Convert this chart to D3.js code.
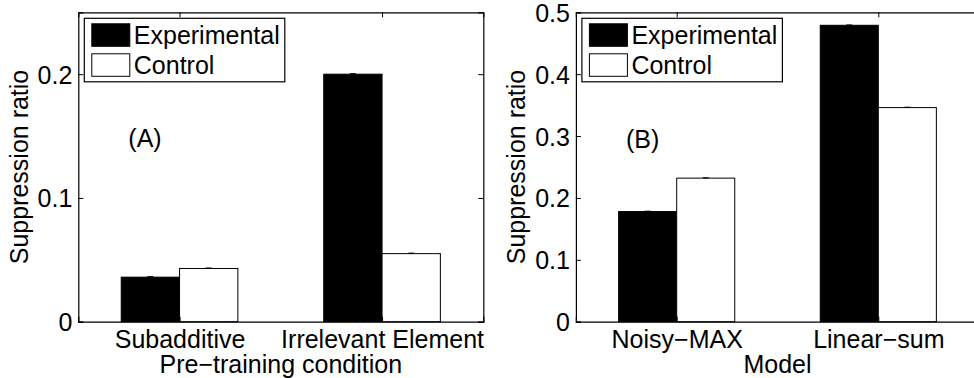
<!DOCTYPE html>
<html>
<head>
<meta charset="utf-8">
<script src="https://cdn.jsdelivr.net/npm/d3@7"></script>
<style>
  body { margin: 0; background: #fff; }
  svg text { font-family: "Liberation Sans", Arial, Helvetica, sans-serif; fill: #000; }
</style>
</head>
<body>
<svg id="chart" width="974" height="378"></svg>
<script>
// series names
const seriesNames = ["Experimental", "Control"];

// panel A
const catsA = ["Subadditive", "Irrelevant Element"];
const expA = [0.036, 0.2];
const ctlA = [0.043, 0.055];
const expErrA = [0.0004, 0.0004];
const ctlErrA = [0.0004, 0.0004];
const ticksA = [0, 0.1, 0.2];

// panel B
const catsB = ["Noisy\u2212MAX", "Linear\u2212sum"];
const expB = [0.178, 0.479];
const ctlB = [0.232, 0.346];
const expErrB = [0.0006, 0.0006];
const ctlErrB = [0.0006, 0.0006];
const ticksB = [0, 0.1, 0.2, 0.3, 0.4, 0.5];

const svg = d3.select("#chart");
const fontSize = 25;
const barW = 0.288; // bar width in category units

function drawPanel(p) {
  const w = p.width, h = p.height;
  const g = svg.append("g").attr("transform", `translate(${p.left},${p.top})`);

  const x = d3.scaleLinear().domain([0.5, p.cats.length + 0.5]).range([0, w]);
  const y = d3.scaleLinear().domain(p.yDomain).range([h, 0]);

  // white axes background
  g.append("rect").attr("width", w).attr("height", h).attr("fill", "#fff");

  const rows = [];
  p.cats.forEach((c, i) => {
    rows.push({ i: i + 1, off: -barW, v: p.exp[i], e: p.expErr[i], fill: "#000" });
    rows.push({ i: i + 1, off: 0, v: p.ctl[i], e: p.ctlErr[i], fill: "#fff" });
  });

  g.selectAll("rect.bar")
    .data(rows)
    .enter()
    .append("rect")
    .attr("class", "bar")
    .attr("x", d => x(d.i + d.off))
    .attr("width", d => x(d.i + d.off + barW) - x(d.i + d.off))
    .attr("y", d => y(d.v))
    .attr("height", d => y(0) - y(d.v))
    .attr("fill", d => d.fill)
    .attr("stroke", "#000")
    .attr("stroke-width", 1);

  // tiny error bars
  const eb = g.selectAll("g.err").data(rows).enter().append("g").attr("class", "err")
    .attr("transform", d => `translate(${x(d.i + d.off + barW / 2)},0)`);
  eb.append("line")
    .attr("y1", d => y(d.v - d.e)).attr("y2", d => y(d.v + d.e))
    .attr("stroke", "#000");
  eb.append("line")
    .attr("x1", -3).attr("x2", 3)
    .attr("y1", d => y(d.v + d.e)).attr("y2", d => y(d.v + d.e))
    .attr("stroke", "#000");

  // axes
  const left = g.append("g")
    .call(d3.axisLeft(y).tickValues(p.ticks).tickFormat(d => d === 0 ? "0" : d3.format(".1f")(d))
      .tickSize(-5).tickPadding(6));
  const right = g.append("g").attr("transform", `translate(${w},0)`)
    .call(d3.axisRight(y).tickValues(p.ticks).tickFormat("").tickSize(-5));
  const top = g.append("g")
    .call(d3.axisTop(x).tickValues(d3.range(1, p.cats.length + 1)).tickFormat("").tickSize(-5));
  const bottom = g.append("g").attr("transform", `translate(0,${h})`)
    .call(d3.axisBottom(x).tickValues(d3.range(1, p.cats.length + 1))
      .tickFormat(d => p.cats[d - 1]).tickSize(-5).tickPadding(8));

  [left, right, top, bottom].forEach(a => {
    a.selectAll("path.domain").attr("stroke", "#000").attr("stroke-width", 1.2);
    a.selectAll(".tick line").attr("stroke", "#000");
    a.selectAll("text").style("font-size", fontSize + "px").attr("fill", "#000");
  });
  left.selectAll("text").attr("dy", "0.36em");
  bottom.selectAll("text").attr("dy", "0.72em");

  // axis labels
  g.append("text")
    .attr("text-anchor", "middle")
    .attr("x", p.xLabelX)
    .attr("y", h + 51)
    .style("font-size", fontSize + "px")
    .text(p.xLabel);

  g.append("text")
    .attr("text-anchor", "middle")
    .attr("transform", `translate(${-p.yLabelOff},${h / 2}) rotate(-90)`)
    .style("font-size", fontSize + "px")
    .text("Suppression ratio");

  // panel tag
  g.append("text")
    .attr("x", 50)
    .attr("y", p.tagY)
    .style("font-size", fontSize + "px")
    .text(p.tag);

  // legend
  const lg = g.append("g").attr("transform", "translate(6,6)");
  lg.append("rect")
    .attr("width", 200.5).attr("height", 63.5)
    .attr("fill", "#fff").attr("stroke", "#000").attr("stroke-width", 1.2);
  seriesNames.forEach((s, k) => {
    lg.append("rect")
      .attr("x", 7.5).attr("y", 5.5 + k * 30)
      .attr("width", 38).attr("height", 22.5)
      .attr("fill", k === 0 ? "#000" : "#fff")
      .attr("stroke", "#000").attr("stroke-width", 1);
    lg.append("text")
      .attr("x", 49.5).attr("y", 25.5 + k * 30)
      .style("font-size", fontSize + "px")
      .text(s);
  });
}

drawPanel({
  left: 78.3, top: 12.3, width: 405, height: 309.4,
  cats: catsA, exp: expA, ctl: ctlA, expErr: expErrA, ctlErr: ctlErrA,
  yDomain: [0, 0.25], ticks: ticksA,
  xLabel: "Pre\u2212training condition", xLabelX: 202.5,
  yLabelOff: 50, tag: "(A)", tagY: 134.4
});

drawPanel({
  left: 575.9, top: 12.3, width: 403.2, height: 309.4,
  cats: catsB, exp: expB, ctl: ctlB, expErr: expErrB, ctlErr: ctlErrB,
  yDomain: [0, 0.5], ticks: ticksB,
  xLabel: "Model", xLabelX: 201.6,
  yLabelOff: 51, tag: "(B)", tagY: 135.7
});
</script>
</body>
</html>
